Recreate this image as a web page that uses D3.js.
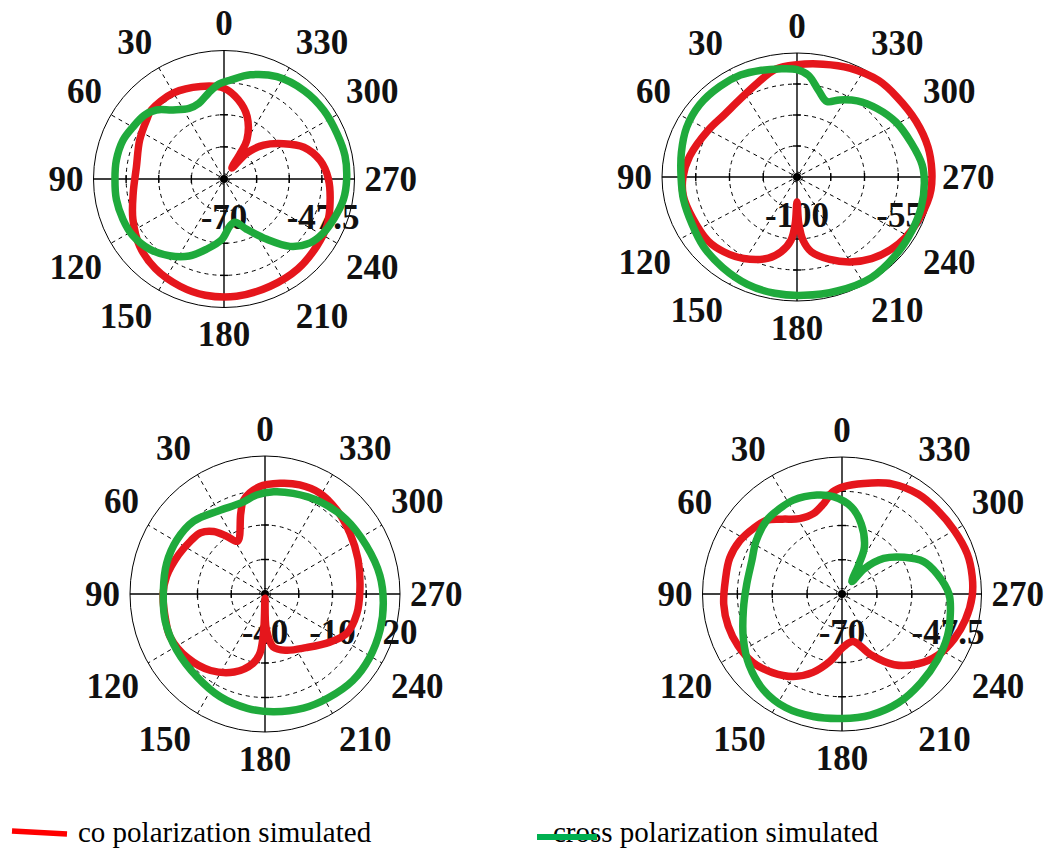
<!DOCTYPE html>
<html>
<head>
<meta charset="utf-8">
<script src="https://cdn.jsdelivr.net/npm/d3@7"></script>
<style>
  body { margin: 0; background: #fff; }
  svg { display: block; }
  text { font-family: "Liberation Serif", "Times New Roman", serif; }
</style>
</head>
<body>
<script>
const width = 1054,
  height = 848;

// angle tick labels (degrees, counter-clockwise from top)
const angleTicks = [0, 30, 60, 90, 120, 150, 180, 210, 240, 270, 300, 330];
const spokeAngles = [30, 60, 120, 150, 210, 240, 300, 330];

// radial axis ranges (dB) and the labels printed on them
const p1Range = [-70, -25], p1RadialLabels = ["-70", "-47.5"];
const p2Range = [-100, -10], p2RadialLabels = ["-100", "-55"];
const p3Range = [-40, 20], p3RadialLabels = ["-40", "-10", "20"];
const p4Range = [-70, -25], p4RadialLabels = ["-70", "-47.5"];

// plot 1 (top left)
const p1CoAngles = [0, 14, 30, 46, 52, 65, 82, 99, 114, 129, 143, 158, 171, 186, 203, 219, 234, 245, 255, 270, 281, 292, 301, 311, 319, 325, 328, 330, 340, 350];
const p1CoValues = [-38.2, -36.6, -35.2, -35.2, -36.2, -37.9, -39.5, -38.3, -35.6, -32.6, -30.7, -29.5, -28.8, -28.7, -29.2, -29.5, -30.3, -30.9, -32.2, -34.0, -36.2, -40.3, -46.0, -51.9, -58.0, -65.3, -59.4, -54.2, -46.7, -41.8];
const p1CrossAngles = [3, 10, 18, 26, 36, 44, 51, 60, 69, 80, 90, 101, 112, 122, 134, 145, 156, 166, 178, 187, 194, 204, 215, 224, 233, 241, 250, 260, 270, 281, 292, 305, 318, 333, 346, 356];
const p1CrossValues = [-36.7, -39.4, -42.1, -42.5, -40.1, -36.4, -34.6, -33.7, -32.6, -32.3, -32.4, -32.2, -32.4, -32.8, -34.5, -37.2, -40.5, -44.6, -48.8, -53.4, -54.4, -50.7, -44.2, -37.2, -32.8, -30.9, -29.6, -28.2, -27.7, -27.5, -27.9, -28.0, -28.5, -29.8, -32.4, -35.2];

// plot 2 (top right)
const p2CoAngles = [0, 10, 21, 34, 47, 60, 78, 90, 100, 113, 128, 138, 149, 162, 169, 175, 178, 180, 182, 185, 190, 200, 210, 220, 230, 239, 249, 258, 264, 273, 284, 297, 311, 322, 336, 348];
const p2CoValues = [-18.5, -20.3, -26.8, -32.0, -33.7, -31.8, -26.9, -24.0, -23.0, -24.3, -24.7, -27.0, -31.0, -38.1, -44.7, -53.9, -66.1, -81.8, -66.1, -53.9, -44.8, -36.3, -28.8, -22.6, -18.2, -15.3, -13.1, -11.2, -10.2, -10.0, -10.0, -10.9, -11.6, -11.3, -13.5, -16.3];
const p2CrossAngles = [0, 9, 17, 27, 38, 51, 64, 77, 90, 102, 116, 129, 143, 157, 170, 183, 198, 214, 230, 243, 255, 267, 276, 288, 301, 313, 324, 333, 340, 347, 354];
const p2CrossValues = [-22.1, -20.6, -19.0, -17.0, -16.5, -16.5, -18.1, -20.9, -22.7, -22.6, -22.1, -19.8, -17.7, -15.4, -14.3, -14.0, -13.0, -11.7, -13.2, -14.0, -14.3, -15.0, -16.1, -19.9, -22.9, -27.1, -31.7, -37.2, -41.7, -35.7, -25.9];

// plot 3 (bottom left)
const p3CoAngles = [3, 13, 17, 28, 34, 40, 47, 55, 66, 80, 90, 105, 114, 129, 144, 158, 170, 175, 178, 180, 182, 189, 201, 218, 234, 245, 258, 272, 290, 305, 319, 331, 342, 352];
const p3CoValues = [6.7, 2.0, -3.2, -14.0, -9.8, -4.5, -0.9, 0.3, 2.0, 4.4, 5.3, 5.6, 6.1, 4.2, 1.1, -3.4, -9.4, -14.2, -25.0, -38.2, -25.0, -16.7, -13.8, -10.4, -4.4, 0.2, 1.7, 2.2, 4.0, 6.1, 8.5, 10.2, 9.9, 8.6];
const p3CrossAngles = [5, 15, 30, 45, 59, 73, 88, 105, 122, 140, 156, 171, 184, 199, 212, 226, 239, 253, 266, 279, 295, 312, 329, 344, 355];
const p3CrossValues = [3.2, 1.0, 1.7, 4.8, 5.7, 5.7, 5.2, 5.9, 6.2, 7.0, 8.9, 10.3, 11.3, 12.5, 13.2, 14.2, 14.1, 13.5, 12.7, 11.7, 9.7, 8.5, 7.0, 5.5, 4.6];

// plot 4 (bottom right)
const p4CoAngles = [5, 11, 19, 29, 38, 45, 53, 62, 72, 83, 95, 106, 117, 128, 139, 150, 160, 170, 182, 193, 205, 216, 227, 237, 248, 258, 269, 278, 288, 300, 312, 323, 336, 349, 359];
const p4CoValues = [-36.3, -39.6, -42.0, -41.7, -38.8, -35.7, -34.2, -32.7, -31.9, -32.1, -31.7, -31.8, -32.4, -33.5, -35.8, -38.7, -42.6, -47.5, -52.7, -54.0, -48.0, -41.3, -36.4, -33.1, -30.9, -29.3, -28.0, -27.6, -27.5, -28.2, -28.7, -29.0, -30.4, -33.0, -34.7];
const p4CrossAngles = [5, 14, 27, 36, 45, 58, 69, 84, 99, 115, 128, 141, 154, 167, 180, 193, 207, 221, 235, 248, 260, 270, 282, 292, 301, 311, 319, 322, 331, 335, 345, 354];
const p4CrossValues = [-37.9, -36.5, -35.4, -35.5, -35.7, -37.3, -38.9, -39.1, -37.8, -34.9, -32.0, -29.6, -28.5, -28.7, -29.1, -29.2, -29.9, -31.3, -32.4, -33.3, -34.5, -35.5, -38.6, -41.6, -46.6, -52.2, -59.0, -64.8, -58.6, -52.9, -46.1, -41.2];

const legendLabels = ["co polarization simulated", "cross polarization simulated"];

const coColor = "#e5161c",
  crossColor = "#1faa3c";

// layout of the four panels
const plots = [
  { cx: 224, cy: 179, rx: 130.5, ry: 128.5, range: p1Range, labels: p1RadialLabels, labelPos: [0, 0.76],
    co: [p1CoAngles, p1CoValues], cross: [p1CrossAngles, p1CrossValues] },
  { cx: 797, cy: 177, rx: 135, ry: 124, range: p2Range, labels: p2RadialLabels, labelPos: [0, 0.76],
    co: [p2CoAngles, p2CoValues], cross: [p2CrossAngles, p2CrossValues] },
  { cx: 265, cy: 594, rx: 135, ry: 138, range: p3Range, labels: p3RadialLabels, labelPos: [0, 0.5, 1],
    co: [p3CoAngles, p3CoValues], cross: [p3CrossAngles, p3CrossValues] },
  { cx: 842, cy: 594, rx: 139.5, ry: 137, range: p4Range, labels: p4RadialLabels, labelPos: [0, 0.76],
    co: [p4CoAngles, p4CoValues], cross: [p4CrossAngles, p4CrossValues] }
];

const svg = d3
  .select("body")
  .append("svg")
  .attr("width", width)
  .attr("height", height);

svg.append("rect").attr("width", width).attr("height", height).attr("fill", "#fff");

const curve = d3.line().curve(d3.curveCatmullRomClosed.alpha(0.5));

function drawPlot(p) {
  const g = svg.append("g").attr("transform", `translate(${p.cx},${p.cy})`);

  // radius as a fraction of the outer circle
  const r = d3.scaleLinear().domain(p.range).range([0, 1]).clamp(true);
  const pt = (deg, f) => {
    const a = (deg * Math.PI) / 180;
    return [-Math.sin(a) * f * p.rx, -Math.cos(a) * f * p.ry];
  };

  // dashed grid circles
  [0.04, 0.25, 0.5, 0.75].forEach(f => {
    g.append("ellipse")
      .attr("rx", f * p.rx)
      .attr("ry", f * p.ry)
      .attr("fill", "none")
      .attr("stroke", "#000")
      .attr("stroke-width", 1)
      .attr("stroke-dasharray", "4,4");
  });

  // dashed spokes
  spokeAngles.forEach(a => {
    const [x1, y1] = pt(a, 0.04);
    const [x2, y2] = pt(a, 1);
    g.append("line")
      .attr("x1", x1).attr("y1", y1)
      .attr("x2", x2).attr("y2", y2)
      .attr("stroke", "#000")
      .attr("stroke-width", 1)
      .attr("stroke-dasharray", "4,4");
  });

  // outer circle
  g.append("ellipse")
    .attr("rx", p.rx)
    .attr("ry", p.ry)
    .attr("fill", "none")
    .attr("stroke", "#000")
    .attr("stroke-width", 1);

  // axes
  g.append("line").attr("x1", -p.rx).attr("x2", p.rx).attr("y1", 0).attr("y2", 0)
    .attr("stroke", "#000").attr("stroke-width", 1.4);
  g.append("line").attr("x1", 0).attr("x2", 0).attr("y1", -p.ry).attr("y2", p.ry)
    .attr("stroke", "#000").attr("stroke-width", 1.4);

  // small ticks on the axes
  [0.25, 0.5, 0.75].forEach(f => {
    [-1, 1].forEach(s => {
      g.append("line").attr("x1", s * f * p.rx).attr("x2", s * f * p.rx).attr("y1", -4).attr("y2", 4)
        .attr("stroke", "#000").attr("stroke-width", 1.4);
      g.append("line").attr("y1", s * f * p.ry).attr("y2", s * f * p.ry).attr("x1", -4).attr("x2", 4)
        .attr("stroke", "#000").attr("stroke-width", 1.4);
    });
  });

  g.append("circle").attr("r", 4).attr("fill", "#000");

  // radial labels
  p.labels.forEach((t, i) => {
    g.append("text")
      .attr("x", p.labelPos[i] * p.rx)
      .attr("y", 50)
      .attr("text-anchor", "middle")
      .attr("font-size", 35)
      .attr("font-weight", "bold")
      .attr("fill", "#111")
      .text(t);
  });

  // angle labels around the rim
  angleTicks.forEach(a => {
    const rad = (a * Math.PI) / 180;
    const ux = -Math.sin(rad), uy = -Math.cos(rad);
    const px = ux * (p.rx + 7), py = uy * (p.ry + 7);
    const txt = g.append("text")
      .attr("text-anchor", "middle")
      .attr("font-size", 35)
      .attr("font-weight", "bold")
      .attr("fill", "#111")
      .attr("dy", "0.34em")
      .text(a);
    const w = txt.node().getComputedTextLength();
    const sx = Math.abs(ux) < 0.1 ? 0 : Math.sign(ux);
    const sy = Math.abs(uy) < 0.1 ? 0 : Math.sign(uy);
    txt.attr("x", px + sx * (w / 2 + 3)).attr("y", py + sy * 20);
  });

  // traces
  [[p.co, coColor], [p.cross, crossColor]].forEach(([s, color]) => {
    const pts = d3.zip(s[0], s[1]).map(([a, v]) => pt(a, r(v)));
    g.append("path")
      .attr("d", curve(pts))
      .attr("fill", "none")
      .attr("stroke", color)
      .attr("stroke-width", 7.5)
      .attr("stroke-linejoin", "round");
  });
}

plots.forEach(drawPlot);

// legend
const legend = svg.append("g");
legend.append("text")
  .attr("x", 78).attr("y", 842)
  .attr("font-size", 29)
  .attr("fill", "#000")
  .text(legendLabels[0]);
legend.append("line")
  .attr("x1", 12).attr("y1", 831).attr("x2", 67).attr("y2", 834)
  .attr("stroke", "#ff0000").attr("stroke-width", 5.5);
legend.append("text")
  .attr("x", 553).attr("y", 842)
  .attr("font-size", 29)
  .attr("fill", "#000")
  .text(legendLabels[1]);
legend.append("line")
  .attr("x1", 537).attr("y1", 837).attr("x2", 597).attr("y2", 837)
  .attr("stroke", "#00b050").attr("stroke-width", 6);
</script>
</body>
</html>
